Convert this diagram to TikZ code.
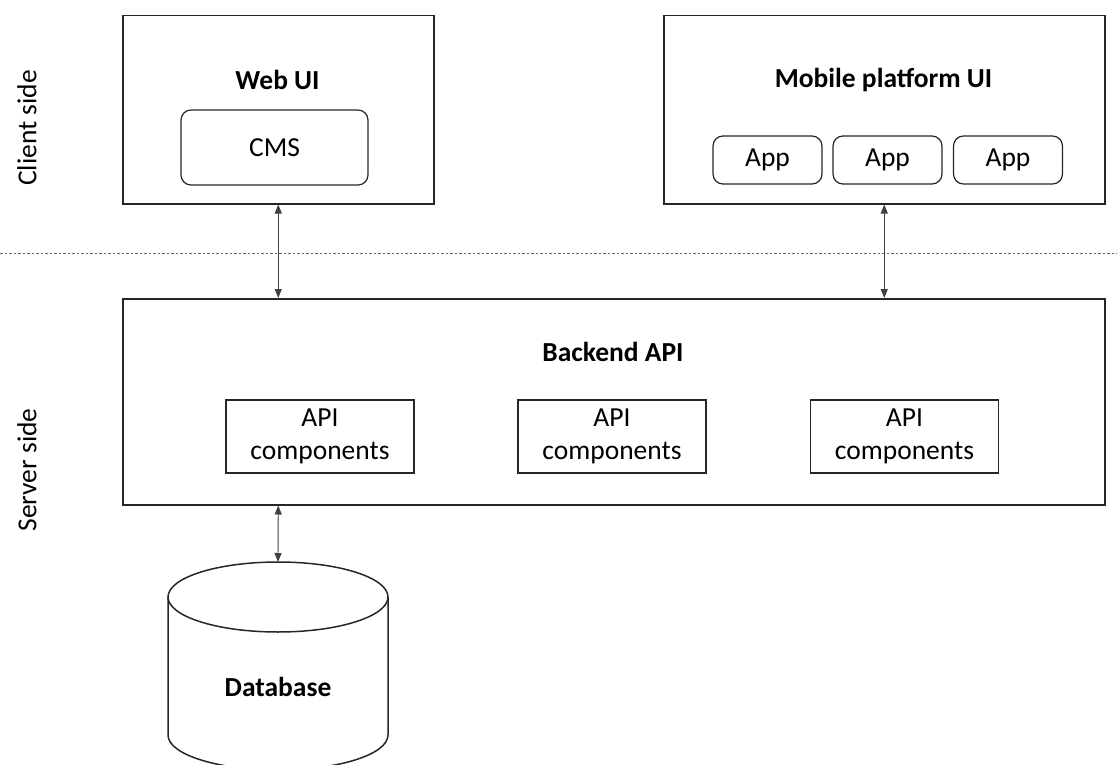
\documentclass[tikz,border=0pt]{standalone}
\usepackage{fontspec}
\setmainfont{Carlito}
\usetikzlibrary{positioning,calc,arrows.meta}

\begin{document}
\begin{tikzpicture}[
    x=1pt, y=-1pt,
    font=\fontsize{27.5}{33}\selectfont,
    frame/.style={rectangle, draw=black!85, line width=1.5pt, inner sep=0pt, anchor=north west},
    part/.style={rectangle, draw=black!85, line width=1.2pt, inner sep=0pt, align=center},
    title/.style={font=\fontsize{27.5}{33}\selectfont\bfseries},
    link/.style={{Triangle[length=9pt,width=7pt]}-{Triangle[length=9pt,width=7pt]}, line width=0.9pt, draw=black!75}
]
\useasboundingbox (0,0) rectangle (1117,765);

% Side labels and divider
\node[rotate=90] (client) at (27,128) {Client side};
\node[rotate=90] (server) at (27,470) {Server side};
\draw[black!60, line width=0.8pt, dash pattern=on 2.5pt off 2pt] (0,253) -- (1117,253);

% Client side
\node[frame, minimum width=311, minimum height=188] (web) at (122,15) {};
\node[title] (webtitle) at (277.5,80) {Web UI};
\node[part, rounded corners=10pt, minimum width=187, minimum height=75] (cms) at (274.5,147.5) {CMS};

\node[frame, minimum width=441, minimum height=188] (mobile) at (663,15) {};
\node[title] (mobiletitle) at (883.5,80) {Mobile platform UI};
\foreach \i/\x in {1/767.5, 2/887.5, 3/1008}
    \node[part, rounded corners=10pt, minimum width=109, minimum height=48] (app\i) at (\x,160) {App};

% Server side
\node[frame, minimum width=982, minimum height=206] (back) at (122,298) {};
\node[title] (backtitle) at (613,352) {Backend API};
\foreach \i/\x in {1/320, 2/612, 3/904.5}
    \node[part, minimum width=188, minimum height=73, font=\fontsize{27.5}{33}\selectfont] (api\i) at (\x,436.5) {API\\components};

% Database
\draw[black!85, line width=1.5pt] (278,597) ellipse [x radius=110pt, y radius=35pt];
\draw[black!85, line width=1.5pt] (168,597) -- (168,735) arc[start angle=180, end angle=360, x radius=110pt, y radius=35pt] -- (388,597);
\coordinate (dbtop) at (278,562);
\node[title] (db) at (278,687) {Database};

% Arrows
\draw[link] (web.south) -- (web.south |- back.north);
\draw[link] (mobile.south) -- (mobile.south |- back.north);
\draw[link] (web.south |- back.south) -- (dbtop);

\end{tikzpicture}
\end{document}
